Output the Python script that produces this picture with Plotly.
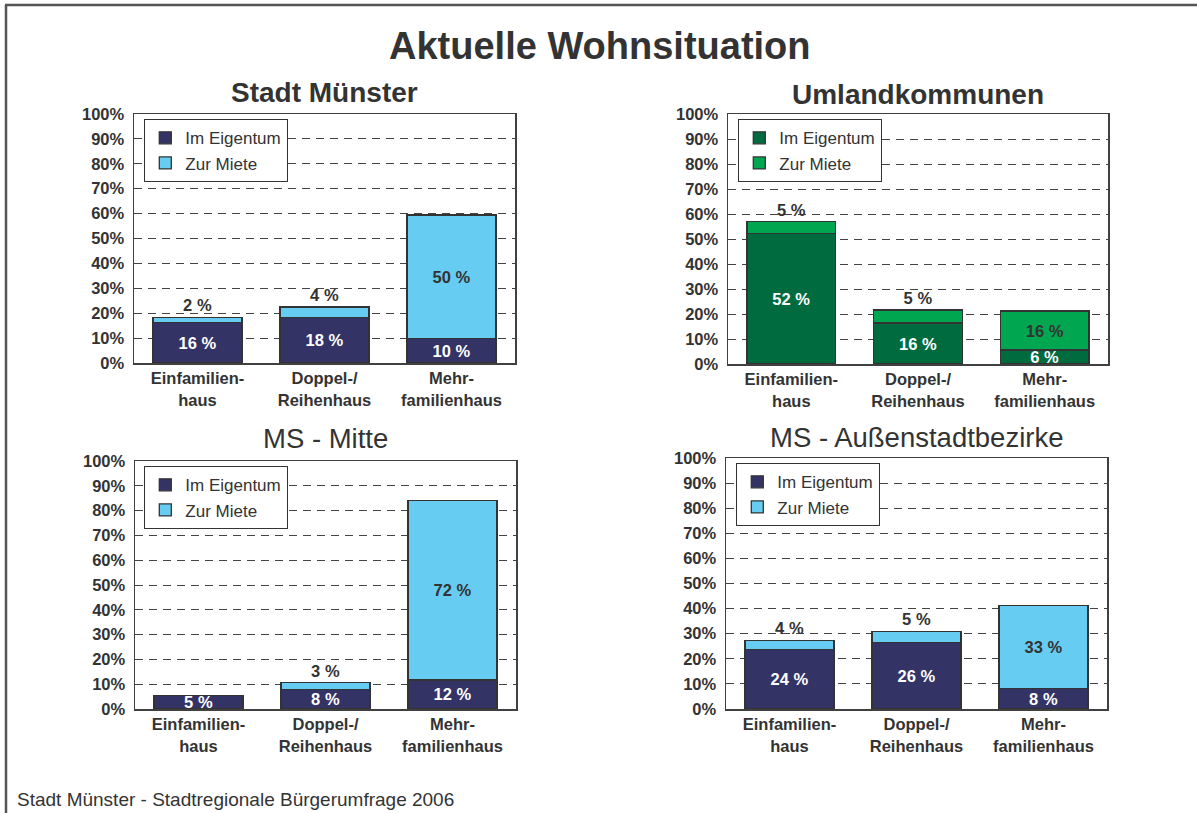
import plotly.graph_objects as go

# ---------------- data ----------------
categories = ["Einfamilien-<br>haus", "Doppel-/<br>Reihenhaus", "Mehr-<br>familienhaus"]
series_names = ["Im Eigentum", "Zur Miete"]

muenster_eigentum = [16.2, 18.4, 9.8]
muenster_miete = [2.2, 4.1, 49.6]
umland_eigentum = [52.3, 16.4, 5.6]
umland_miete = [4.6, 5.2, 15.6]
mitte_eigentum = [5.4, 8.0, 11.7]
mitte_miete = [0.0, 2.6, 72.3]
aussen_eigentum = [23.7, 26.4, 8.1]
aussen_miete = [3.7, 4.6, 33.1]

y_ticks = list(range(0, 101, 10))
y_ticklabels = [f"{t}%" for t in y_ticks]

main_title = "Aktuelle Wohnsituation"
panel_titles = ["Stadt Münster", "Umlandkommunen", "MS - Mitte", "MS - Außenstadtbezirke"]
footer = "Stadt Münster - Stadtregionale Bürgerumfrage 2006"

# ---------------- styling / layout ----------------
W, H = 1197, 813
FONT = "Liberation Sans, Arial, sans-serif"
TXT = "#333333"
BLUE_DARK, BLUE_LIGHT = "#333366", "#66CCF2"
GREEN_DARK, GREEN_LIGHT = "#006B3F", "#00A650"

panels = [
    dict(eig=muenster_eigentum, mie=muenster_miete, colors=(BLUE_DARK, BLUE_LIGHT),
         box=(134, 515, 114, 363), legend=(144, 119), title=panel_titles[0], ty=92, bold=True),
    dict(eig=umland_eigentum, mie=umland_miete, colors=(GREEN_DARK, GREEN_LIGHT),
         box=(728, 1108, 114, 364), legend=(738, 119), title=panel_titles[1], ty=95, bold=True),
    dict(eig=mitte_eigentum, mie=mitte_miete, colors=(BLUE_DARK, BLUE_LIGHT),
         box=(135, 516, 461, 709), legend=(144, 466), title=panel_titles[2], ty=438, bold=False),
    dict(eig=aussen_eigentum, mie=aussen_miete, colors=(BLUE_DARK, BLUE_LIGHT),
         box=(726, 1107, 458, 709), legend=(736, 463), title=panel_titles[3], ty=437, bold=False),
]


def px_x(p):
    return p / W


def px_y(p):
    return 1 - p / H


def fmt(vals):
    return [f"{v:.0f} %" if v > 0 else "" for v in vals]


fig = go.Figure()
layout = dict(
    width=W, height=H,
    margin=dict(l=0, r=0, t=0, b=0, autoexpand=False),
    paper_bgcolor="white", plot_bgcolor="white",
    barmode="stack", bargap=0.3,
    font=dict(family=FONT, color=TXT),
    hovermode=False,
    annotations=[], shapes=[],
)

for i, p in enumerate(panels):
    n = "" if i == 0 else str(i + 1)
    xa, ya = "x" + n, "y" + n
    lg = "legend" + n
    x0, x1, y0, y1 = p["box"]
    outline = dict(color="#333333", width=1.3)
    fig.add_trace(go.Bar(
        x=categories, y=p["eig"], name=series_names[0], xaxis=xa, yaxis=ya, legend=lg,
        marker=dict(color=p["colors"][0], line=outline),
        text=fmt(p["eig"]), textposition="inside", insidetextanchor="middle",
        textangle=0, constraintext="none",
        textfont=dict(family=FONT, size=16.5, color="white", weight="bold"),
    ))
    fig.add_trace(go.Bar(
        x=categories, y=p["mie"], name=series_names[1], xaxis=xa, yaxis=ya, legend=lg,
        marker=dict(color=p["colors"][1], line=outline),
        text=fmt(p["mie"]),
        textposition=["outside" if v < 10 else "inside" for v in p["mie"]],
        insidetextanchor="middle", textangle=0, constraintext="none", cliponaxis=False,
        textfont=dict(family=FONT, size=16.5, color=TXT, weight="bold"),
    ))
    layout["xaxis" + n] = dict(
        domain=[px_x(x0), px_x(x1)], anchor=ya, type="category",
        showline=True, mirror=True, linecolor="#404040", linewidth=1.5,
        showgrid=False, ticks="", fixedrange=True,
        tickfont=dict(family=FONT, size=16.5, color=TXT, weight="bold"),
    )
    layout["yaxis" + n] = dict(
        domain=[px_y(y1), px_y(y0)], anchor=xa, range=[0, 100],
        tickvals=y_ticks, ticktext=y_ticklabels, ticks="", ticklabelstandoff=5,
        showline=True, mirror=True, linecolor="#404040", linewidth=1.5,
        showgrid=True, gridcolor="#444444", gridwidth=1, griddash="8px,6px",
        zeroline=False, fixedrange=True,
        tickfont=dict(family=FONT, size=16.5, color=TXT, weight="bold"),
    )
    lx, ly = p["legend"]
    layout[lg] = dict(
        x=px_x(lx), y=px_y(ly), xanchor="left", yanchor="top",
        bgcolor="white", bordercolor="#333333", borderwidth=1.3,
        traceorder="normal", font=dict(family=FONT, size=17, color=TXT),
        tracegroupgap=0, itemclick=False, itemdoubleclick=False,
    )
    layout["annotations"].append(dict(
        text=p["title"], xref="paper", yref="paper",
        x=px_x((x0 + x1) / 2), y=px_y(p["ty"]), xanchor="center", yanchor="middle",
        showarrow=False,
        font=dict(family=FONT, size=28 if p["bold"] else 27.5, color=TXT,
                  weight="bold" if p["bold"] else "normal"),
    ))

layout["annotations"].append(dict(
    text=main_title, xref="paper", yref="paper", x=px_x(600), y=px_y(46),
    xanchor="center", yanchor="middle", showarrow=False,
    font=dict(family=FONT, size=38, color=TXT, weight="bold"),
))
layout["annotations"].append(dict(
    text=footer, xref="paper", yref="paper", x=px_x(15), y=px_y(799),
    xanchor="left", yanchor="middle", showarrow=False,
    font=dict(family=FONT, size=19, color=TXT),
))
# outer frame (top and left edges)
layout["shapes"].append(dict(type="line", xref="paper", yref="paper", layer="above",
                             x0=px_x(5), x1=1.0, y0=px_y(5), y1=px_y(5),
                             line=dict(color="#555555", width=2.5)))
layout["shapes"].append(dict(type="line", xref="paper", yref="paper", layer="above",
                             x0=px_x(6), x1=px_x(6), y0=px_y(5), y1=0.0,
                             line=dict(color="#555555", width=2.5)))

fig.update_layout(**layout)
fig.write_html("out.html",
               config={"displayModeBar": False, "staticPlot": True},
               post_script="document.body.style.margin='0px'; document.body.style.overflow='hidden';")
